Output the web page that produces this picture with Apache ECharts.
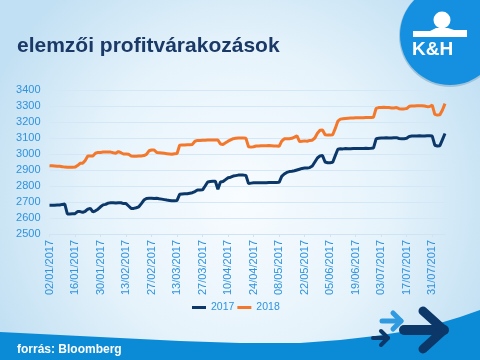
<!DOCTYPE html>
<html><head><meta charset="utf-8">
<script src="https://cdn.jsdelivr.net/npm/echarts@6/dist/echarts.min.js"></script>
<style>html,body{margin:0;padding:0;}#c{width:480px;height:360px;}</style>
</head><body><div id="c"></div>
<script>
var categories = [
'02/01/2017','03/01/2017','04/01/2017','05/01/2017','06/01/2017','09/01/2017','10/01/2017','11/01/2017','12/01/2017','13/01/2017',
'16/01/2017','17/01/2017','18/01/2017','19/01/2017','20/01/2017','23/01/2017','24/01/2017','25/01/2017','26/01/2017','27/01/2017',
'30/01/2017','31/01/2017','01/02/2017','02/02/2017','03/02/2017','06/02/2017','07/02/2017','08/02/2017','09/02/2017','10/02/2017',
'13/02/2017','14/02/2017','15/02/2017','16/02/2017','17/02/2017','20/02/2017','21/02/2017','22/02/2017','23/02/2017','24/02/2017',
'27/02/2017','28/02/2017','01/03/2017','02/03/2017','03/03/2017','06/03/2017','07/03/2017','08/03/2017','09/03/2017','10/03/2017',
'13/03/2017','14/03/2017','15/03/2017','16/03/2017','17/03/2017','20/03/2017','21/03/2017','22/03/2017','23/03/2017','24/03/2017',
'27/03/2017','28/03/2017','29/03/2017','30/03/2017','31/03/2017','03/04/2017','04/04/2017','05/04/2017','06/04/2017','07/04/2017',
'10/04/2017','11/04/2017','12/04/2017','13/04/2017','14/04/2017','17/04/2017','18/04/2017','19/04/2017','20/04/2017','21/04/2017',
'24/04/2017','25/04/2017','26/04/2017','27/04/2017','28/04/2017','01/05/2017','02/05/2017','03/05/2017','04/05/2017','05/05/2017',
'08/05/2017','09/05/2017','10/05/2017','11/05/2017','12/05/2017','15/05/2017','16/05/2017','17/05/2017','18/05/2017','19/05/2017',
'22/05/2017','23/05/2017','24/05/2017','25/05/2017','26/05/2017','29/05/2017','30/05/2017','31/05/2017','01/06/2017','02/06/2017',
'05/06/2017','06/06/2017','07/06/2017','08/06/2017','09/06/2017','12/06/2017','13/06/2017','14/06/2017','15/06/2017','16/06/2017',
'19/06/2017','20/06/2017','21/06/2017','22/06/2017','23/06/2017','26/06/2017','27/06/2017','28/06/2017','29/06/2017','30/06/2017',
'03/07/2017','04/07/2017','05/07/2017','06/07/2017','07/07/2017','10/07/2017','11/07/2017','12/07/2017','13/07/2017','14/07/2017',
'17/07/2017','18/07/2017','19/07/2017','20/07/2017','21/07/2017','24/07/2017','25/07/2017','26/07/2017','27/07/2017','28/07/2017',
'31/07/2017','01/08/2017','02/08/2017','03/08/2017','04/08/2017','07/08/2017'
];
var s2017 = [
2680,2680,2680,2681,2681,2685,2687,2625,2625,2626,
2627,2640,2640,2635,2642,2655,2660,2638,2645,2655,
2670,2682,2685,2693,2695,2695,2694,2695,2695,2690,
2690,2675,2660,2660,2664,2670,2690,2712,2722,2723,
2724,2722,2723,2720,2718,2715,2712,2710,2708,2708,
2710,2748,2750,2752,2752,2755,2758,2765,2775,2775,
2776,2800,2825,2828,2830,2830,2780,2825,2828,2840,
2852,2855,2862,2865,2868,2868,2868,2866,2815,2818,
2820,2820,2821,2821,2820,2821,2822,2822,2822,2822,
2823,2860,2875,2885,2890,2892,2895,2900,2905,2910,
2912,2912,2915,2925,2950,2975,2988,2990,2950,2945,
2946,2948,2990,3030,3033,3032,3034,3033,3033,3034,
3035,3034,3034,3035,3036,3035,3036,3038,3095,3098,
3100,3100,3101,3100,3100,3102,3102,3097,3096,3096,
3098,3110,3112,3113,3113,3114,3112,3113,3114,3114,
3112,3055,3050,3052,3090,3128
];
var s2018 = [
2927,2926,2925,2924,2923,2921,2918,2917,2917,2917,
2918,2928,2942,2942,2960,2987,2987,2988,3005,3010,
3010,3012,3012,3013,3012,3008,3005,3015,3008,3000,
3000,2998,2988,2986,2986,2987,2988,2990,2998,3020,
3025,3025,3010,3008,3006,3004,3002,3000,2998,3002,
3003,3055,3057,3057,3058,3058,3060,3080,3085,3085,
3086,3086,3087,3087,3088,3088,3088,3062,3060,3070,
3080,3088,3096,3098,3100,3100,3100,3098,3045,3043,
3045,3050,3050,3052,3052,3052,3053,3052,3050,3050,
3048,3080,3095,3095,3096,3098,3105,3113,3078,3080,
3082,3080,3085,3086,3100,3130,3148,3150,3120,3118,
3118,3120,3160,3205,3218,3220,3222,3224,3225,3225,
3226,3226,3227,3227,3228,3228,3228,3230,3285,3290,
3290,3292,3290,3290,3288,3288,3290,3283,3282,3282,
3284,3298,3300,3300,3301,3302,3302,3300,3296,3297,
3305,3248,3243,3245,3275,3315
];
var seriesNames = ['2017', '2018'];
var titleText = 'elemzői profitvárakozások';
var sourceText = 'forrás: Bloomberg';

var FONT = 'Liberation Sans, Arial, sans-serif';
var LBL = '#2f93de';
var chart = echarts.init(document.getElementById('c'), null, {renderer: 'canvas'});
chart.setOption({
  animation: false,
  backgroundColor: {
    type: 'radial', x: 0.5, y: 0.55, r: 0.75,
    colorStops: [{offset: 0, color: '#f8fcff'}, {offset: 0.55, color: '#e6f3fb'}, {offset: 1, color: '#c2e0f3'}]
  },
  textStyle: {fontFamily: FONT},
  title: {
    text: titleText, left: 12, top: 31,
    textStyle: {fontFamily: FONT, fontSize: 21, fontWeight: 'bold', color: '#1b3966'}
  },
  legend: {
    data: seriesNames, left: 187, top: 297, icon: 'rect', itemWidth: 14, itemHeight: 3, itemGap: 3,
    textStyle: {fontFamily: FONT, fontSize: 10.5, color: LBL}
  },
  grid: {left: 49.5, right: 35, top: 90, bottom: 126, containLabel: false},
  xAxis: {
    type: 'category', data: categories, boundaryGap: false,
    axisLine: {lineStyle: {color: '#cfe3f3', width: 1}},
    axisTick: {show: true, interval: 9, length: 3, lineStyle: {color: '#cfe3f3'}},
    axisLabel: {interval: 9, rotate: 90, margin: 6, fontFamily: FONT, fontSize: 11, color: LBL},
    splitLine: {show: false}
  },
  yAxis: {
    type: 'value', min: 2500, max: 3400, interval: 100,
    axisLine: {show: false}, axisTick: {show: false},
    axisLabel: {margin: 9, fontFamily: FONT, fontSize: 11, color: LBL, formatter: function (v) { return String(v); }},
    splitLine: {lineStyle: {color: '#d3e7f6', width: 1}}
  },
  series: [
    {name: seriesNames[0], type: 'line', data: s2017, showSymbol: false, symbol: 'none',
     lineStyle: {color: '#0b3868', width: 3}, itemStyle: {color: '#0b3868'}},
    {name: seriesNames[1], type: 'line', data: s2018, showSymbol: false, symbol: 'none',
     lineStyle: {color: '#f3782b', width: 3}, itemStyle: {color: '#f3782b'}}
  ],
  graphic: [
    {type: 'polygon', silent: true, z: 10,
     shape: {points: [[0,332],[60,335],[120,338],[180,341],[240,343],[300,343],[340,340],[375,336],[407,331],[440,323],[460,317],[480,310],[480,360],[0,360]]},
     style: {fill: '#0b8bd6'}},
    {type: 'text', z: 11, left: 17, top: 344,
     style: {text: sourceText, fill: '#ffffff', font: 'bold 12px Liberation Sans, Arial, sans-serif'}},
    {type: 'polyline', z: 12, shape: {points: [[404,330],[444,330]]},
     style: {stroke: '#0b3868', lineWidth: 10, lineCap: 'round', fill: null}},
    {type: 'polyline', z: 12, shape: {points: [[423,311],[444,330],[423,349]]},
     style: {stroke: '#0b3868', lineWidth: 9, lineCap: 'round', lineJoin: 'round', fill: null}},
    {type: 'polyline', z: 12, shape: {points: [[382,321],[401,321]]},
     style: {stroke: '#2f9ae0', lineWidth: 5, lineCap: 'round', fill: null}},
    {type: 'polyline', z: 12, shape: {points: [[393,313],[401,321],[393,329]]},
     style: {stroke: '#2f9ae0', lineWidth: 5, lineCap: 'round', lineJoin: 'round', fill: null}},
    {type: 'polyline', z: 12, shape: {points: [[373,338],[388,338]]},
     style: {stroke: '#0b3868', lineWidth: 4, lineCap: 'round', fill: null}},
    {type: 'polyline', z: 12, shape: {points: [[381,331],[388,338],[381,345]]},
     style: {stroke: '#0b3868', lineWidth: 4, lineCap: 'round', lineJoin: 'round', fill: null}},
    {type: 'circle', z: 10, shape: {cx: 450, cy: 36, r: 51}, style: {fill: '#9fc3da'}},
    {type: 'circle', z: 11, shape: {cx: 450, cy: 35, r: 50}, style: {fill: '#1590e0'}},
    {type: 'circle', z: 12, shape: {cx: 442, cy: 20, r: 8.5}, style: {fill: '#ffffff'}},
    {type: 'polygon', z: 12, shape: {points: [[413,31],[430,31],[436,28],[448,28],[454,30],[467,30],[467,37],[413,37]]}, style: {fill: '#ffffff'}},
    {type: 'text', z: 12, left: 412, top: 40,
     style: {text: 'K&H', fill: '#ffffff', font: 'bold 19px Liberation Sans, Arial, sans-serif'}}
  ]
});
</script>
</body></html>
